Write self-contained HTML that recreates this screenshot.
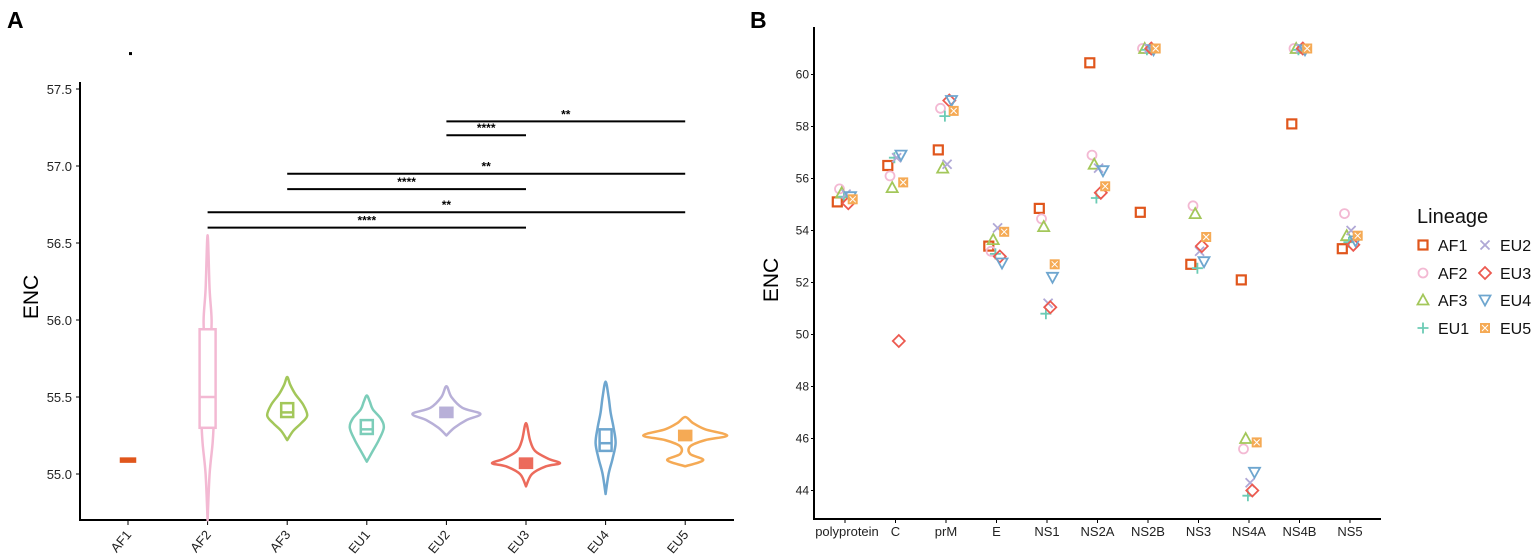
<!DOCTYPE html>
<html><head><meta charset="utf-8"><style>
body{margin:0;background:#fff;}
svg{display:block;font-family:"Liberation Sans",Arial,sans-serif;}
</style></head><body>
<svg id="s" width="1535" height="554" viewBox="0 0 1535 554" xmlns="http://www.w3.org/2000/svg">
<text x="7" y="28" font-size="23" font-weight="bold">A</text>
<text x="750" y="28" font-size="23" font-weight="bold">B</text>
<g id="ga"></g>
<g id="gb"></g>
</svg>
<script>
// ---------- Panel A data ----------
const groupsA = ['AF1','AF2','AF3','EU1','EU2','EU3','EU4','EU5'];
const colorsA = ['#e0561c','#f3b9d3','#a3c75a','#7ccdb9','#b8b0d8','#ec6b5c','#6ea6cf','#f5aa55'];
const ticksA = [55.0,55.5,56.0,56.5,57.0,57.5];
const boxQ1 = [55.1,55.3,55.37,55.26,55.37,55.04,55.15,55.22];
const boxMed = [55.1,55.5,55.4,55.29,55.4,55.07,55.2,55.25];
const boxQ3 = [55.1,55.94,55.46,55.35,55.43,55.1,55.29,55.28];
// violin profiles: ENC levels and half-widths (px) per group
const vY = [
 [],
 [54.7,55.0,55.2,55.35,55.5,55.8,56.0,56.2,56.55],
 [55.22,55.28,55.33,55.38,55.45,55.52,55.58,55.63],
 [55.08,55.15,55.22,55.3,55.36,55.42,55.47,55.51],
 [55.25,55.3,55.35,55.39,55.43,55.5,55.57],
 [54.92,55.0,55.05,55.07,55.1,55.15,55.22,55.33],
 [54.87,55.0,55.1,55.2,55.3,55.4,55.5,55.6],
 [55.05,55.09,55.13,55.18,55.22,55.25,55.29,55.33,55.37]
];
const vW = [
 [],
 [0,2,5,6,4,3,4,2,0],
 [0,6,14,20,16,8,3,0],
 [0,6,12,17,14,6,3,0],
 [0,8,20,34,16,5,0],
 [0,6,20,34,22,9,4,0],
 [0,3,7,10,8,5,3,0],
 [0,18,5,5,20,42,20,8,0]
];
const sigFrom = [1,1,2,2,4,4];
const sigTo = [5,7,5,7,5,7];
const sigY = [56.6,56.7,56.85,56.95,57.2,57.29];
const sigLab = ['****','**','****','**','****','**'];

// ---------- Panel B data ----------
const genes = ['polyprotein','C','prM','E','NS1','NS2A','NS2B','NS3','NS4A','NS4B','NS5'];
const lineages = ['AF1','AF2','AF3','EU1','EU2','EU3','EU4','EU5'];
const ticksB = [44,46,48,50,52,54,56,58,60];
const encAF1 = [55.1,56.5,57.1,53.4,54.85,60.45,54.7,52.7,52.1,58.1,53.3];
const encAF2 = [55.6,56.1,58.7,53.2,54.45,56.9,61.0,54.95,45.6,61.0,54.65];
const encAF3 = [55.45,55.65,56.4,53.65,54.15,56.55,61.0,54.65,46.0,61.0,53.8];
const encEU1 = [55.3,56.8,58.4,53.1,50.8,55.25,60.95,52.55,43.8,60.95,53.55];
const encEU2 = [55.4,56.8,56.55,54.1,51.2,56.4,61.0,53.2,44.3,61.0,54.0];
const encEU3 = [55.05,49.75,59.0,53.0,51.05,55.45,61.0,53.4,44.0,61.0,53.45];
const encEU4 = [55.3,56.9,59.0,52.75,52.2,56.3,60.95,52.8,44.7,60.95,53.6];
const encEU5 = [55.2,55.85,58.6,53.95,52.7,55.7,61.0,53.75,45.85,61.0,53.8];
const seriesB = [encAF1,encAF2,encAF3,encEU1,encEU2,encEU3,encEU4,encEU5];
const colorsB = ['#e0561c','#f3b9d3','#a3c75a','#6ccbb5','#b0a8d6','#ec5a50','#6ea6cf','#f5aa55'];
const shapesB = ['square','circle','triangle','plus','cross','diamond','tridown','squarex'];

const NS='http://www.w3.org/2000/svg';
function mk(tag,attrs,parent,txt){const e=document.createElementNS(NS,tag);for(const k in attrs)e.setAttribute(k,attrs[k]);if(txt!==undefined)e.textContent=txt;parent.appendChild(e);return e;}
function smooth(pts){
  // Catmull-Rom to bezier, open path
  let d='M'+pts[0][0]+','+pts[0][1];
  for(let i=0;i<pts.length-1;i++){
    const p0=pts[Math.max(0,i-1)],p1=pts[i],p2=pts[i+1],p3=pts[Math.min(pts.length-1,i+2)];
    const c1x=p1[0]+(p2[0]-p0[0])/6,c1y=p1[1]+(p2[1]-p0[1])/6;
    const c2x=p2[0]-(p3[0]-p1[0])/6,c2y=p2[1]-(p3[1]-p1[1])/6;
    d+=`C${c1x},${c1y} ${c2x},${c2y} ${p2[0]},${p2[1]}`;
  }
  return d;
}

// ---------- Panel A ----------
const ga=document.getElementById('ga');
const yA=v=>474-(v-55)*154;
const xA=i=>128+i*79.6;
mk('line',{x1:80,y1:82,x2:80,y2:520,stroke:'#000','stroke-width':2},ga);
mk('line',{x1:79,y1:520,x2:734,y2:520,stroke:'#000','stroke-width':2},ga);
ticksA.forEach(t=>{
  const l=mk('line',{x1:76,y1:yA(t),x2:80,y2:yA(t),stroke:'#000'},ga);
  
  const tx=mk('text',{x:72,y:yA(t)+5,'font-size':13,'text-anchor':'end',fill:'#222'},ga,t.toFixed(1));
  
});
const ylabA=mk('text',{x:0,y:0,'font-size':21,'text-anchor':'middle',transform:'translate(38,297) rotate(-90)'},ga,'ENC');

groupsA.forEach((g,i)=>{
  const x=xA(i),c=colorsA[i];
  const tk=mk('line',{x1:x,y1:520,x2:x,y2:525,stroke:'#000'},ga);
  
  const lb=mk('text',{x:0,y:0,'font-size':13,'text-anchor':'end',fill:'#222',transform:`translate(${x+4},${535}) rotate(-50)`},ga,g);
  
  if(vY[i].length){
    const pts=[];
    vY[i].forEach((v,k)=>pts.push([x+vW[i][k],yA(v)]));
    for(let k=vY[i].length-2;k>=0;k--)pts.push([x-vW[i][k],yA(vY[i][k])]);
    const p=mk('path',{d:smooth(pts)+'Z',fill:'none',stroke:c,'stroke-width':2.5,'stroke-linejoin':'round'},ga);
    
    
  }
  const bw=i===1?16:(i===0?14:12);
  const h=Math.max(3,yA(boxQ1[i])-yA(boxQ3[i]));
  const filled=i===0||i===4||i===5||i===7;
  const b=mk('rect',{x:x-bw/2,y:yA(boxQ3[i]),width:bw,height:h,fill:filled?c:'#fff',stroke:c,'stroke-width':2.5},ga);
  
  
  if(!filled){const m=mk('line',{x1:x-bw/2,x2:x+bw/2,y1:yA(boxMed[i]),y2:yA(boxMed[i]),stroke:c,'stroke-width':2.5},ga);
  }
});
const outl=mk('rect',{x:xA(0)+1,y:yA(57.73)-1.5,width:3,height:3,fill:'#000'},ga);

sigY.forEach((v,k)=>{
  const l=mk('line',{x1:xA(sigFrom[k]),x2:xA(sigTo[k]),y1:yA(v),y2:yA(v),stroke:'#000','stroke-width':2},ga);
  
  const t=mk('text',{x:(xA(sigFrom[k])+xA(sigTo[k]))/2,y:yA(v)-3,'font-size':12,'font-weight':'bold','text-anchor':'middle'},ga,sigLab[k]);
  
});

// ---------- Panel B ----------
const gb=document.getElementById('gb');
const yB=v=>490.5-(v-44)*26;
const xB=i=>845+i*50.5;
mk('line',{x1:814,y1:27,x2:814,y2:520,stroke:'#000','stroke-width':2},gb);
mk('line',{x1:813,y1:519,x2:1381,y2:519,stroke:'#000','stroke-width':2},gb);
ticksB.forEach(t=>{
  const l=mk('line',{x1:811,y1:yB(t),x2:814,y2:yB(t),stroke:'#000'},gb);
  
  const tx=mk('text',{x:809,y:yB(t)+4,'font-size':12,'text-anchor':'end',fill:'#222'},gb,t);
  
});
const ylabB=mk('text',{x:0,y:0,'font-size':21,'text-anchor':'middle',transform:'translate(778,280) rotate(-90)'},gb,'ENC');

genes.forEach((g,i)=>{
  const tk=mk('line',{x1:xB(i),y1:519,x2:xB(i),y2:523,stroke:'#000'},gb);
  
  const lb=mk('text',{x:xB(i)+(i===0?2:0),y:536,'font-size':13,'text-anchor':'middle',fill:'#222'},gb,g);
  
});
function sym(shape,x,y,c,parent){
  const s=4.5,a={fill:'none',stroke:c,'stroke-width':1.8};
  if(shape==='square')return mk('rect',Object.assign({x:x-s,y:y-s,width:2*s,height:2*s},a,{'stroke-width':2.2}),parent);
  if(shape==='circle')return mk('circle',Object.assign({cx:x,cy:y,r:s},a),parent);
  if(shape==='triangle')return mk('path',Object.assign({d:`M${x},${y-s-1}L${x+s+1},${y+s}L${x-s-1},${y+s}Z`},a),parent);
  if(shape==='tridown')return mk('path',Object.assign({d:`M${x-s-1},${y-s}L${x+s+1},${y-s}L${x},${y+s+1}Z`},a),parent);
  if(shape==='plus')return mk('path',Object.assign({d:`M${x-s-1},${y}H${x+s+1}M${x},${y-s-1}V${y+s+1}`},a),parent);
  if(shape==='cross')return mk('path',Object.assign({d:`M${x-s},${y-s}L${x+s},${y+s}M${x+s},${y-s}L${x-s},${y+s}`},a),parent);
  if(shape==='diamond')return mk('path',Object.assign({d:`M${x},${y-s-1.5}L${x+s+1.5},${y}L${x},${y+s+1.5}L${x-s-1.5},${y}Z`},a),parent);
  const g=mk('g',{},parent);
  mk('rect',{x:x-s,y:y-s,width:2*s,height:2*s,fill:c,stroke:c,'stroke-width':1},g);
  mk('path',{d:`M${x-s+1.5},${y-s+1.5}L${x+s-1.5},${y+s-1.5}M${x+s-1.5},${y-s+1.5}L${x-s+1.5},${y+s-1.5}`,stroke:'#fff','stroke-width':1},g);
  return g;
}
seriesB.forEach((arr,li)=>{
  const off=(li-3.5)*2.2;
  arr.forEach((v,gi)=>{
    const e=sym(shapesB[li],xB(gi)+off,yB(v),colorsB[li],gb);
    
    
  });
});
// legend
const lg=mk('g',{},gb);


const lt=mk('text',{x:1417,y:223,'font-size':20,fill:'#111'},lg,'Lineage');

const rowsY=[245,273,300,328];
lineages.forEach((l,i)=>{
  const col=i<4?0:1,row=i<4?i:i-4;
  const sx=col?1485:1423,ty=rowsY[row];
  const e=sym(shapesB[i],sx,ty,colorsB[i],lg);
  
  const t=mk('text',{x:sx+15,y:ty+6,'font-size':16,fill:'#111'},lg,l);
  
});
</script>
</body></html>
